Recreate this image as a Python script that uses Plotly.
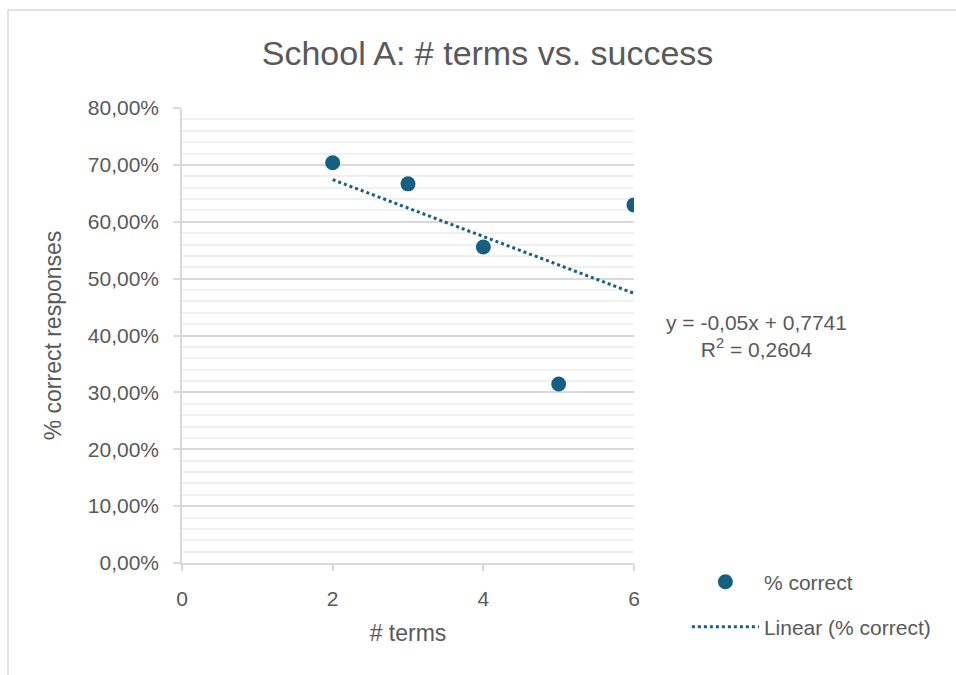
import numpy as np
import plotly.graph_objects as go

# Data: number of terms vs. share of correct responses
terms = [2, 3, 4, 5, 6]
pct_correct = [19 / 27, 2 / 3, 5 / 9, 17 / 54, 17 / 27]

series_name = "% correct"
trend_name = "Linear (% correct)"
title_text = "School A: # terms vs. success"
x_title = "# terms"
y_title = "% correct responses"

# Linear least-squares trend line
slope, intercept = np.polyfit(terms, pct_correct, 1)
pred = np.polyval([slope, intercept], terms)
ss_res = float(np.sum((np.array(pct_correct) - pred) ** 2))
ss_tot = float(np.sum((np.array(pct_correct) - np.mean(pct_correct)) ** 2))
r2 = 1 - ss_res / ss_tot

def comma(v, nd):
    return f"{v:.{nd}f}".replace(".", ",")

sign = "+" if intercept >= 0 else "-"
eq_text = (f"y = {comma(slope, 2)}x {sign} {comma(abs(intercept), 4)}<br>"
           f"R<sup>2</sup> = {comma(r2, 4)}")

COLOR = "#156082"
TEXT = "#595959"
FONT = "Liberation Sans"

fig = go.Figure()
fig.add_trace(go.Scatter(
    x=terms, y=pct_correct, mode="markers", name=series_name,
    marker=dict(size=15, color=COLOR), legend="legend",
))
trend_x = [min(terms), max(terms)]
fig.add_trace(go.Scatter(
    x=trend_x, y=list(np.polyval([slope, intercept], trend_x)),
    mode="lines", name=trend_name,
    line=dict(color=COLOR, width=3, dash="dot"), legend="legend2",
))

legend_style = dict(xanchor="left", yanchor="middle", itemwidth=67,
                    font=dict(size=21, color=TEXT, family=FONT),
                    bgcolor="rgba(0,0,0,0)")

fig.update_layout(
    width=956, height=675,
    margin=dict(l=182, r=322, t=108, b=112),
    paper_bgcolor="white", plot_bgcolor="white",
    separators=", ",
    font=dict(family=FONT, color=TEXT, size=21),
    title=dict(text=title_text, x=0.51, xanchor="center", y=0.922, yanchor="middle",
               font=dict(size=34, color=TEXT, family=FONT)),
    showlegend=True,
    legend=dict(x=1.117, y=-0.042, **legend_style),
    legend2=dict(x=1.117, y=-0.141, **legend_style),
    xaxis=dict(
        range=[0, 6], tickvals=[0, 2, 4, 6], showgrid=False, zeroline=False,
        showline=True, linecolor="#d9d9d9", linewidth=1.5,
        ticks="outside", ticklen=6, tickcolor="#d9d9d9", tickwidth=1.5,
        ticklabelstandoff=10,
        tickfont=dict(size=21, color=TEXT),
        title=dict(text=x_title, font=dict(size=23, color=TEXT), standoff=16),
    ),
    yaxis=dict(
        range=[0, 0.8], dtick=0.1, tickformat=".2%",
        showgrid=True, gridcolor="#d9d9d9", gridwidth=1.5,
        zeroline=False, showline=True, linecolor="#d9d9d9", linewidth=1.5,
        ticks="outside", ticklen=7, tickcolor="#d9d9d9", tickwidth=1.5,
        ticklabelstandoff=10,
        tickfont=dict(size=21, color=TEXT),
        minor=dict(dtick=0.02, showgrid=True, gridcolor="#f0f0f0", gridwidth=1.5),
        title=dict(text=y_title, font=dict(size=23, color=TEXT), standoff=20),
    ),
)

# Trend line equation
fig.add_annotation(
    text=eq_text, xref="paper", yref="paper", x=1.272, y=0.500,
    xanchor="center", yanchor="middle", showarrow=False, align="center",
    font=dict(size=21, color=TEXT, family=FONT),
)

# Chart frame
border = dict(color="#d9d9d9", width=1.5)
fig.add_shape(type="line", xref="paper", yref="paper",
              x0=-0.385, x1=-0.385, y0=1.2154, y1=-0.3, line=border)
fig.add_shape(type="line", xref="paper", yref="paper",
              x0=-0.385, x1=1.8, y0=1.2154, y1=1.2154, line=border)

fig.write_html("out.html")
